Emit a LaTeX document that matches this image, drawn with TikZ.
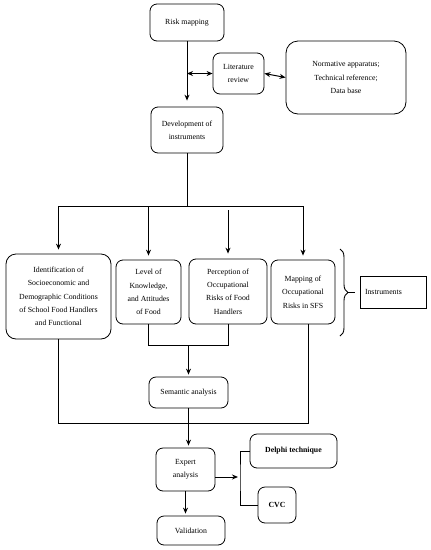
\documentclass[tikz,border=0pt]{standalone}
\usepackage{fontspec}
\setmainfont{Liberation Serif}
\usepackage{tikz}
\usetikzlibrary{arrows.meta, decorations.pathreplacing}

\begin{document}
\begin{tikzpicture}[x=1pt, y=-1pt,
    every node/.style={font=\fontsize{7.8}{13.3}\selectfont, align=center, inner sep=1pt},
    box/.style={draw, rounded corners=7pt, line width=0.8pt},
    arr/.style={-{Stealth[length=6pt, width=5pt]}, line width=1pt},
    darr/.style={{Stealth[length=6pt, width=5pt]}-{Stealth[length=6pt, width=5pt]}, line width=1pt},
    ln/.style={line width=1pt}]
        \useasboundingbox (0,0) rectangle (431,550);

        % Top part
        \node[box, minimum width=74pt, minimum height=37pt] (risk) at (187,22.5) {Risk mapping};
        \node[box, minimum width=51pt, minimum height=41pt] (lit) at (238.5,73.5) {Literature\\review};
        \node[box, rounded corners=12pt, minimum width=120pt, minimum height=73pt] (norm) at (346,77.5) {Normative apparatus;\\Technical reference;\\Data base};
        \node[box, minimum width=72pt, minimum height=46pt] (dev) at (187,130) {Development of\\instruments};

        \draw[arr, shorten >=6pt] (risk) -- (dev);
        \draw[darr] (risk.south |- lit.west) -- (lit.west);
        \draw[darr] (lit.east) -- (norm.west);

        % Instruments
        \node[box, rounded corners=10pt, minimum width=105pt, minimum height=85pt] (ident) at (58.5,296.5) {Identification of\\Socioeconomic and\\Demographic Conditions\\of School Food Handlers\\and Functional};
        \node[box, minimum width=65pt, minimum height=64pt] (level) at (148.5,292) {Level of\\Knowledge,\\and Attitudes\\of Food};
        \node[box, minimum width=78pt, minimum height=65pt] (perc) at (228,291.5) {Perception of\\Occupational\\Risks of Food\\Handlers};
        \node[box, minimum width=64pt, minimum height=64pt] (mapp) at (303,292) {Mapping of\\Occupational\\Risks in SFS};
        \node[draw, line width=0.8pt, minimum width=66pt, minimum height=32pt, text width=56pt, align=left, inner xsep=5pt] (instr) at (393,292) {Instruments};

        \draw[ln] (dev.south) -- (dev.south |- 0,206) coordinate (split);
        \draw[ln] (ident.north |- split) -- (split -| mapp.north);
        \foreach \b in {ident, level, mapp} {
            \draw[arr, shorten >=4pt] (\b.north |- split) -- (\b.north);
        }
        \draw[arr, shorten <=4pt, shorten >=5pt] (perc.north |- split) -- (perc.north);

        % Brace
        \draw[line width=0.9pt, decorate, decoration={brace, amplitude=8pt}] (340,249) -- (340,336);
        \draw[line width=0.9pt] (348,292) -- (355,292);

        % Analysis
        \node[box, minimum width=79pt, minimum height=31pt] (sem) at (188.5,392.5) {Semantic analysis};
        \node[box, minimum width=59pt, minimum height=43pt] (expert) at (185.5,469.5) {Expert\\analysis};
        \node[box, minimum width=87pt, minimum height=34pt, font=\fontsize{7.8}{13.3}\selectfont\bfseries] (delphi) at (293.5,451) {Delphi technique};
        \node[box, minimum width=38pt, minimum height=36pt, font=\fontsize{7.8}{13.3}\selectfont\bfseries] (cvc) at (277,505) {CVC};
        \node[box, minimum width=68pt, minimum height=29pt] (valid) at (191,530.5) {Validation};

        \coordinate (merge) at (sem.north |- 0,345);
        \draw[ln] (level.south) -- (level.south |- merge) -| (perc.south);
        \draw[arr, shorten >=2pt] (merge) -- (sem.north);
        \draw[ln] (ident.south) |- (308,423) -- ([xshift=5pt]mapp.south);
        \draw[arr, shorten >=2pt] (sem.south) -- (sem.south |- expert.north);

        \coordinate (jn) at (240,477);
        \draw[arr, shorten >=2pt] ([yshift=-7.5pt]expert.east) -- (jn);
        \draw[ln] (delphi.west) -| (jn) |- (cvc.west);
        \draw[arr, shorten >=2pt] (expert.south) -- (expert.south |- valid.north);
    \end{tikzpicture}
\end{document}
